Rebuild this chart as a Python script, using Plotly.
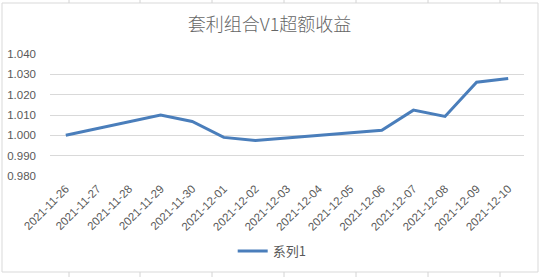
import plotly.graph_objects as go

dates = ["2021-11-26", "2021-11-29", "2021-11-30", "2021-12-01", "2021-12-02",
         "2021-12-06", "2021-12-07", "2021-12-08", "2021-12-09", "2021-12-10"]
values = [1.000, 1.010, 1.0068, 0.9990, 0.9975, 1.0025, 1.0124, 1.0093, 1.0261, 1.0280]
series_name = "系列1"
title_text = "套利组合V1超额收益"
y_ticks = [0.980, 0.990, 1.000, 1.010, 1.020, 1.030, 1.040]

W, H = 539, 277
L, R, T, B = 50, 15, 54, 101

fig = go.Figure()
fig.add_trace(go.Scatter(
    x=dates, y=values, mode="lines", name=series_name,
    line=dict(color="#4A7EBB", width=3), showlegend=True,
))

grey = "#595959"
fig.update_layout(
    width=W, height=H,
    margin=dict(l=L, r=R, t=T, b=B, autoexpand=False),
    paper_bgcolor="white", plot_bgcolor="white",
    title=dict(text=title_text, x=0.5, xref="container", xanchor="center",
               y=1 - 25 / H, yref="container", yanchor="middle",
               font=dict(family="Noto Sans CJK SC", size=18, color="#666666", weight=300)),
    font=dict(family="Liberation Sans", color=grey, size=11),
    showlegend=True,
    legend=dict(orientation="h", xref="container", yref="container",
                x=0.505, xanchor="center", y=1 - 251 / H, yanchor="middle",
                font=dict(family="Noto Sans CJK SC", size=13, color=grey),
                itemwidth=30, bgcolor="rgba(0,0,0,0)"),
    xaxis=dict(type="date", automargin=False,
               range=["2021-11-25 12:00", "2021-12-10 12:00"],
               tickmode="linear", tick0="2021-11-26", dtick=86400000,
               tickformat="%Y-%m-%d", tickangle=-45,
               showgrid=False, zeroline=False, showline=False,
               ticks="", ticklabelstandoff=3,
               tickfont=dict(family="Liberation Sans", size=11.5, color=grey),
               fixedrange=True),
    yaxis=dict(range=[0.98, 1.04], tickvals=y_ticks, tickformat=".3f",
               automargin=False,
               showgrid=True, gridcolor="#D9D9D9", gridwidth=1,
               zeroline=False, showline=False, ticks="",
               ticklabelstandoff=13,
               tickfont=dict(family="Liberation Sans", size=11.5, color=grey),
               fixedrange=True),
)

# chart-area border and surrounding spreadsheet cell lines
pw, ph = W - L - R, H - T - B
shapes = [dict(type="rect", xref="paper", yref="paper",
               x0=(2 - L) / pw, x1=(538 - L) / pw,
               y0=(H - B - 272) / ph, y1=(H - B - 3) / ph,
               line=dict(color="#D9D9D9", width=1), fillcolor="rgba(0,0,0,0)", layer="below")]
for cx in [69, 140, 212, 284, 356, 428, 500]:
    xp = (cx - L) / pw
    shapes.append(dict(type="line", xref="paper", yref="paper", x0=xp, x1=xp,
                       y0=(H - B - 0) / ph, y1=(H - B - 3) / ph,
                       line=dict(color="#D4D4D4", width=1)))
    shapes.append(dict(type="line", xref="paper", yref="paper", x0=xp, x1=xp,
                       y0=(H - B - 272) / ph, y1=(H - B - 277) / ph,
                       line=dict(color="#D4D4D4", width=1)))
fig.update_layout(shapes=shapes)

fig.write_html("out.html")
